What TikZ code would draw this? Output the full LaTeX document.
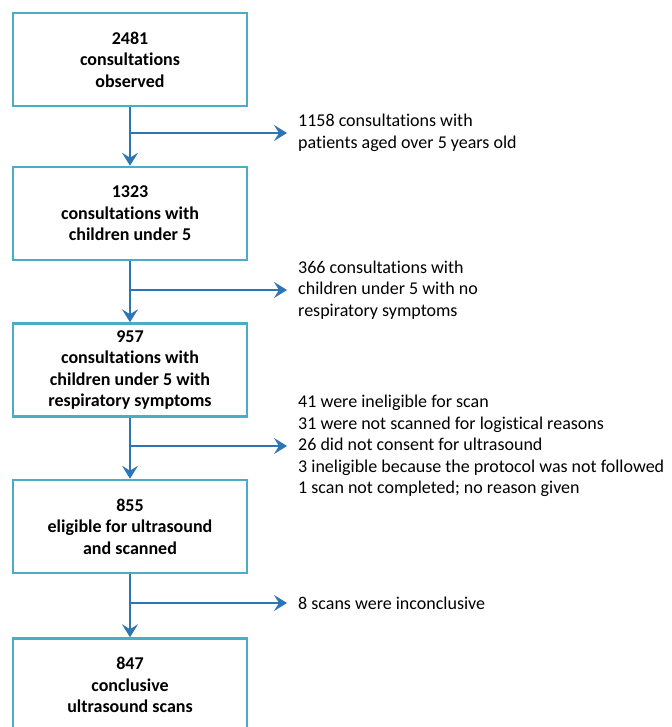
\documentclass[tikz,border=0pt]{standalone}
\usepackage{fontspec}
\setmainfont{Carlito}[RawFeature={-liga;-clig;-dlig;-calt;-rlig}]
\usepackage{xcolor}
\usetikzlibrary{arrows.meta}
\definecolor{boxteal}{RGB}{75,172,198}
\definecolor{flowblue}{RGB}{46,117,182}
\tikzset{
  basenode/.style = {align=center, inner sep=0pt, text centered, font=\fontsize{18}{21.5}\selectfont},
  count_node/.style = {basenode, rectangle, draw=boxteal, line width=2.5pt, minimum width=234pt, minimum height=93pt, font=\fontsize{18}{21.5}\selectfont\bfseries},
  excl_node/.style = {basenode, align=left, anchor=west},
  flow/.style = {draw=flowblue, line width=2.5pt, -{Stealth[length=13pt,width=16pt,inset=5pt]}},
  branch/.style = {flow, shorten >=11pt},
}
\begin{document}
\begin{tikzpicture}[x=1pt,y=-1pt]
    \useasboundingbox (0,0) rectangle (671,727);
    % main boxes
    \node [count_node] (b1) at (130,59.5) {2481\\consultations\\observed};
    \node [count_node] (b2) at (130,213.5) {1323\\consultations with\\children under 5};
    \node [count_node] (b3) at (130,370) {957\\consultations with\\children under 5 with\\respiratory symptoms};
    \node [count_node] (b4) at (130,526.5) {855\\eligible for ultrasound\\and scanned};
    \node [count_node] (b5) at (130,685) {847\\conclusive\\ultrasound scans};
    % exclusions
    \node [excl_node] (e1) at (298,133) {1158 consultations with\\patients aged over 5 years old};
    \node [excl_node] (e2) at (298,290) {366 consultations with\\children under 5 with no\\respiratory symptoms};
    \node [excl_node] (e3) at (298,446) {41 were ineligible for scan\\31 were not scanned for logistical reasons\\26 did not consent for ultrasound\\3 ineligible because the protocol was not followed\\1 scan not completed; no reason given};
    \node [excl_node] (e4) at (298,603) {8 scans were inconclusive};
    % branch points
    \coordinate (j1) at (130,133);
    \coordinate (j2) at (130,290);
    \coordinate (j3) at (130,446);
    \coordinate (j4) at (130,603);
    \draw [flow] (b1) -- (b2);
    \draw [flow] (b2) -- (b3);
    \draw [flow] (b3) -- (b4);
    \draw [flow] (b4) -- (b5);
    \draw [branch] (j1) -- (e1.west);
    \draw [branch] (j2) -- (e2.west);
    \draw [branch] (j3) -- (e3.west);
    \draw [branch] (j4) -- (e4.west);
\end{tikzpicture}
\end{document}
